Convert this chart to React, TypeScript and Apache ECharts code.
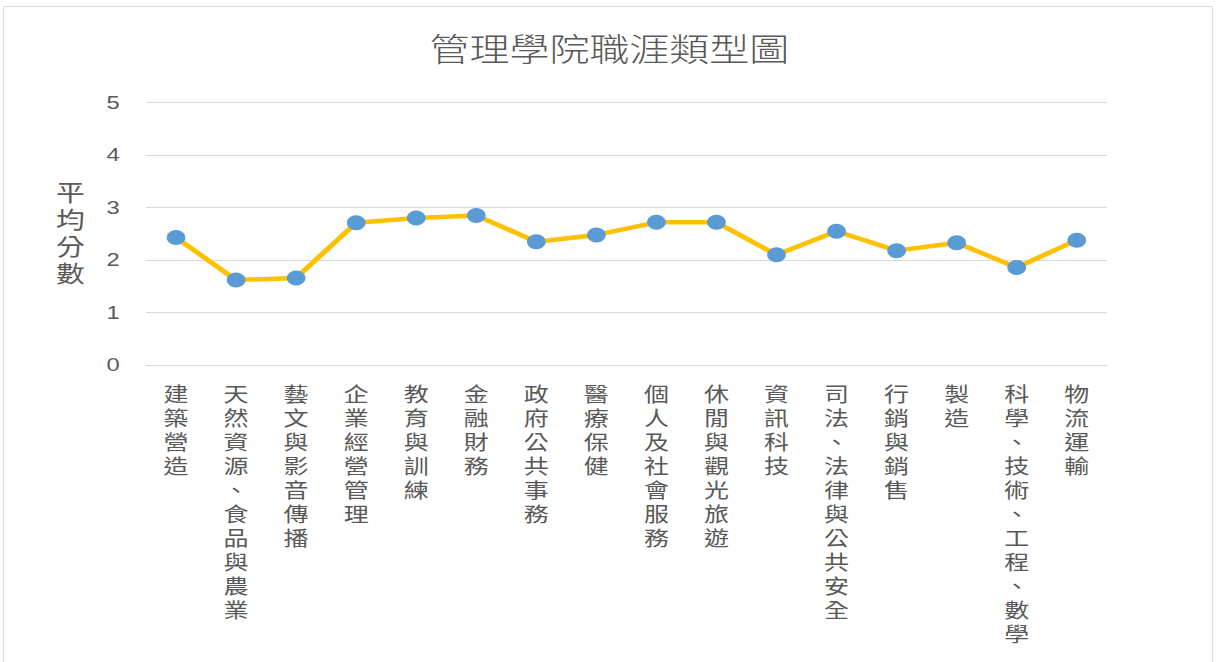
import React, { useEffect, useRef } from "react";
import * as echarts from "echarts";

const titleText = "管理學院職涯類型圖";
const yAxisName = "平均分數";
const categories = [
  "建築營造",
  "天然資源、食品與農業",
  "藝文與影音傳播",
  "企業經營管理",
  "教育與訓練",
  "金融財務",
  "政府公共事務",
  "醫療保健",
  "個人及社會服務",
  "休閒與觀光旅遊",
  "資訊科技",
  "司法、法律與公共安全",
  "行銷與銷售",
  "製造",
  "科學、技術、工程、數學",
  "物流運輸",
];
const values = [2.43, 1.62, 1.66, 2.71, 2.8, 2.85, 2.35, 2.48, 2.72, 2.72, 2.1, 2.55, 2.18, 2.33, 1.86, 2.38];
const yTicks = [0, 1, 2, 3, 4, 5];

const SX = 1.25;
const W = 1219 / SX;
const H = 662;
const FONT = '"Liberation Sans", "Noto Sans CJK TC", sans-serif';
const TEXT = "#595959";

export default function App() {
  const ref = useRef<HTMLDivElement>(null);
  useEffect(() => {
    if (!ref.current) return;
    const chart = echarts.init(ref.current, null, { renderer: "svg" });
    chart.setOption({
      animation: false,
      backgroundColor: "transparent",
      textStyle: { fontFamily: FONT },
      title: {
        text: titleText,
        left: "center",
        top: 29,
        textStyle: { fontSize: 32, fontWeight: 300, color: TEXT, fontFamily: FONT },
      },
      grid: { left: 116.8, right: W - 885.6, top: 102.7, bottom: H - 365 },
      xAxis: {
        type: "category",
        data: categories,
        boundaryGap: true,
        axisLine: { show: true, lineStyle: { color: "#d9d9d9", width: 1 } },
        axisTick: { show: false },
        axisLabel: {
          interval: 0,
          margin: 18,
          fontSize: 20,
          lineHeight: 24,
          color: TEXT,
          fontFamily: FONT,
          verticalAlign: "top",
          formatter: (v: string) => v.split("").join("\n"),
        },
      },
      yAxis: {
        type: "value",
        min: yTicks[0],
        max: yTicks[yTicks.length - 1],
        interval: 1,
        name: yAxisName.split("").join("\n"),
        nameLocation: "middle",
        nameRotate: 0,
        nameGap: 49,
        nameTextStyle: { fontSize: 23, lineHeight: 27, color: TEXT, fontFamily: FONT },
        axisLine: { show: false },
        axisTick: { show: false },
        axisLabel: { margin: 21, fontSize: 19, color: TEXT, fontFamily: FONT },
        splitLine: { lineStyle: { color: "#d9d9d9", width: 1 } },
      },
      series: [
        {
          type: "line",
          data: values,
          symbol: "circle",
          symbolSize: 15,
          lineStyle: { color: "#FFC000", width: 4.5 },
          itemStyle: { color: "#5B9BD5" },
        },
      ],
    });
    return () => chart.dispose();
  }, []);

  return (
    <div style={{ position: "fixed", left: 0, top: 0, width: 1219, height: 662, overflow: "hidden", background: "#fff" }}>
      <div
        style={{
          position: "absolute",
          left: 3,
          top: 6,
          width: 1210,
          height: 720,
          border: "1.5px solid #d9d9d9",
          boxSizing: "border-box",
        }}
      />
      <div
        ref={ref}
        style={{
          position: "absolute",
          left: 0,
          top: 0,
          width: W,
          height: H,
          transform: `scaleX(${SX})`,
          transformOrigin: "0 0",
        }}
      />
    </div>
  );
}
